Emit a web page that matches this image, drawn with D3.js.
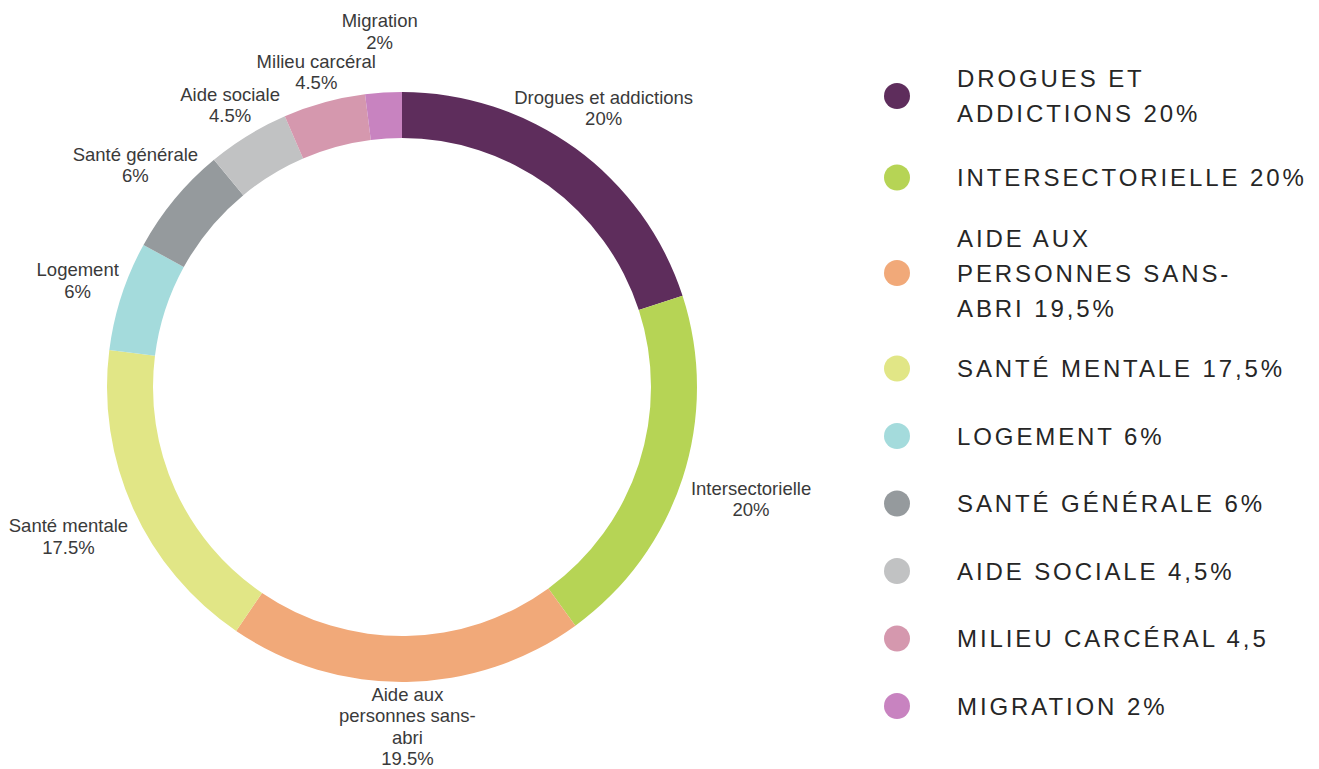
<!DOCTYPE html>
<html>
<head>
<meta charset="utf-8">
<script src="https://cdn.jsdelivr.net/npm/d3@7"></script>
<style>
  html, body { margin: 0; padding: 0; background: #ffffff; }
  svg { display: block; }
</style>
</head>
<body>
<svg id="chart" width="1319" height="769"></svg>
<script>
// ---- data ----
const categories = [
  "Drogues et addictions", "Intersectorielle", "Aide aux personnes sans-abri",
  "Santé mentale", "Logement", "Santé générale", "Aide sociale",
  "Milieu carcéral", "Migration"
];
const values = [20, 20, 19.5, 17.5, 6, 6, 4.5, 4.5, 2];
const sliceLabels = [
  "Drogues et addictions\n20%",
  "Intersectorielle\n20%",
  "Aide aux\npersonnes sans-\nabri\n19.5%",
  "Santé mentale\n17.5%",
  "Logement\n6%",
  "Santé générale\n6%",
  "Aide sociale\n4.5%",
  "Milieu carcéral\n4.5%",
  "Migration\n2%"
];
const legendLabels = [
  "DROGUES ET\nADDICTIONS 20%",
  "INTERSECTORIELLE 20%",
  "AIDE AUX\nPERSONNES SANS-\nABRI 19,5%",
  "SANTÉ MENTALE 17,5%",
  "LOGEMENT 6%",
  "SANTÉ GÉNÉRALE 6%",
  "AIDE SOCIALE 4,5%",
  "MILIEU CARCÉRAL 4,5",
  "MIGRATION 2%"
];
const colors = [
  "#5e2d5c", "#b6d455", "#f1a979", "#e1e686", "#a4dbdc",
  "#959a9d", "#c1c2c3", "#d598ae", "#c883c0"
];

// ---- layout ----
const W = 1319, H = 769;
const svg = d3.select("#chart");
const cx = 402, cy = 387;
const outerR = 295, innerR = 249;

const color = d3.scaleOrdinal().domain(categories).range(colors);
const pie = d3.pie().sort(null).value(d => d.value);
const data = categories.map((c, i) => ({ name: c, value: values[i], label: sliceLabels[i], legend: legendLabels[i] }));
const arcs = pie(data);
const arc = d3.arc().innerRadius(innerR).outerRadius(outerR);

const g = svg.append("g").attr("transform", `translate(${cx},${cy})`);
g.selectAll("path.slice")
  .data(arcs)
  .join("path")
  .attr("class", "slice")
  .attr("d", arc)
  .attr("fill", d => color(d.data.name));

// ---- slice labels ----
const fontSize = 18.5;
const lineH = 21.5;
const capH = 13.5;
const pad = 8;
const gapBetween = 4;
const labelG = g.append("g");
const placedRects = [];
arcs.forEach((d, i) => {
  const a = (d.startAngle + d.endAngle) / 2;
  const lines = d.data.label.split("\n");
  const n = lines.length;
  const t = labelG.append("text")
    .attr("font-family", "'Liberation Sans', Arial, sans-serif")
    .attr("font-size", fontSize)
    .attr("fill", "#3a3a3a")
    .attr("text-anchor", "middle");
  const widths = [];
  lines.forEach((ln, k) => {
    const ts = t.append("tspan").attr("x", 0).attr("y", k * lineH).text(ln);
    widths.push(ts.node().getComputedTextLength());
  });
  const h = n * lineH;
  const sa = Math.sin(a), ca = -Math.cos(a);
  const baseline0 = (yc) => yc - h / 2 + lineH * 0.74;
  const lineRects = (p) => widths.map((lw, k) => {
    const b = baseline0(p.y) + k * lineH;
    return { x0: p.x - lw / 2, x1: p.x + lw / 2, y0: b - capH, y1: b + 1 };
  });
  const clear = (rs) => rs.every(r => {
    const dx = Math.max(r.x0, -r.x1, 0), dy = Math.max(r.y0, -r.y1, 0);
    return Math.hypot(dx, dy) >= outerR + pad;
  });
  const overlaps = (rs) => rs.some(r => placedRects.some(q =>
    r.x0 < q.x1 + gapBetween && q.x0 < r.x1 + gapBetween &&
    r.y0 < q.y1 + gapBetween && q.y0 < r.y1 + gapBetween));
  let dist = outerR;
  let p = { x: sa * dist, y: ca * dist };
  let guard = 0;
  while ((!clear(lineRects(p)) || overlaps(lineRects(p))) && guard < 400) {
    dist += 1; p = { x: sa * dist, y: ca * dist }; guard++;
  }
  // keep inside the canvas
  const lastBase = baseline0(p.y) + (n - 1) * lineH;
  const maxBase = H - cy - 4;
  if (lastBase > maxBase) p.y -= (lastBase - maxBase);
  const firstTop = baseline0(p.y) - capH;
  const minTop = -cy + 4;
  if (firstTop < minTop) p.y += (minTop - firstTop);
  lineRects(p).forEach(r => placedRects.push(r));
  t.attr("transform", `translate(${p.x},${baseline0(p.y)})`);
});

// ---- legend ----
const legendX = 897, textX = 957;
const legLineH = 35;
const baseStep = 67.5, extraPerLine = 28;
const legend = svg.append("g");
let yc = 96;
let prevH = null;
data.forEach((d, i) => {
  const lines = d.legend.split("\n");
  const hItem = baseStep + (lines.length - 1) * extraPerLine;
  if (prevH !== null) yc += (prevH + hItem) / 2;
  prevH = hItem;
  legend.append("circle")
    .attr("cx", legendX).attr("cy", yc).attr("r", 13)
    .attr("fill", color(d.name));
  const t = legend.append("text")
    .attr("font-family", "'Liberation Sans', Arial, sans-serif")
    .attr("font-size", 24)
    .attr("letter-spacing", "2.9px")
    .attr("fill", "#262626");
  const n = lines.length;
  lines.forEach((ln, k) => {
    t.append("tspan")
      .attr("x", textX)
      .attr("y", yc + (k - (n - 1) / 2) * legLineH + 8.6)
      .text(ln);
  });
});
</script>
</body>
</html>
